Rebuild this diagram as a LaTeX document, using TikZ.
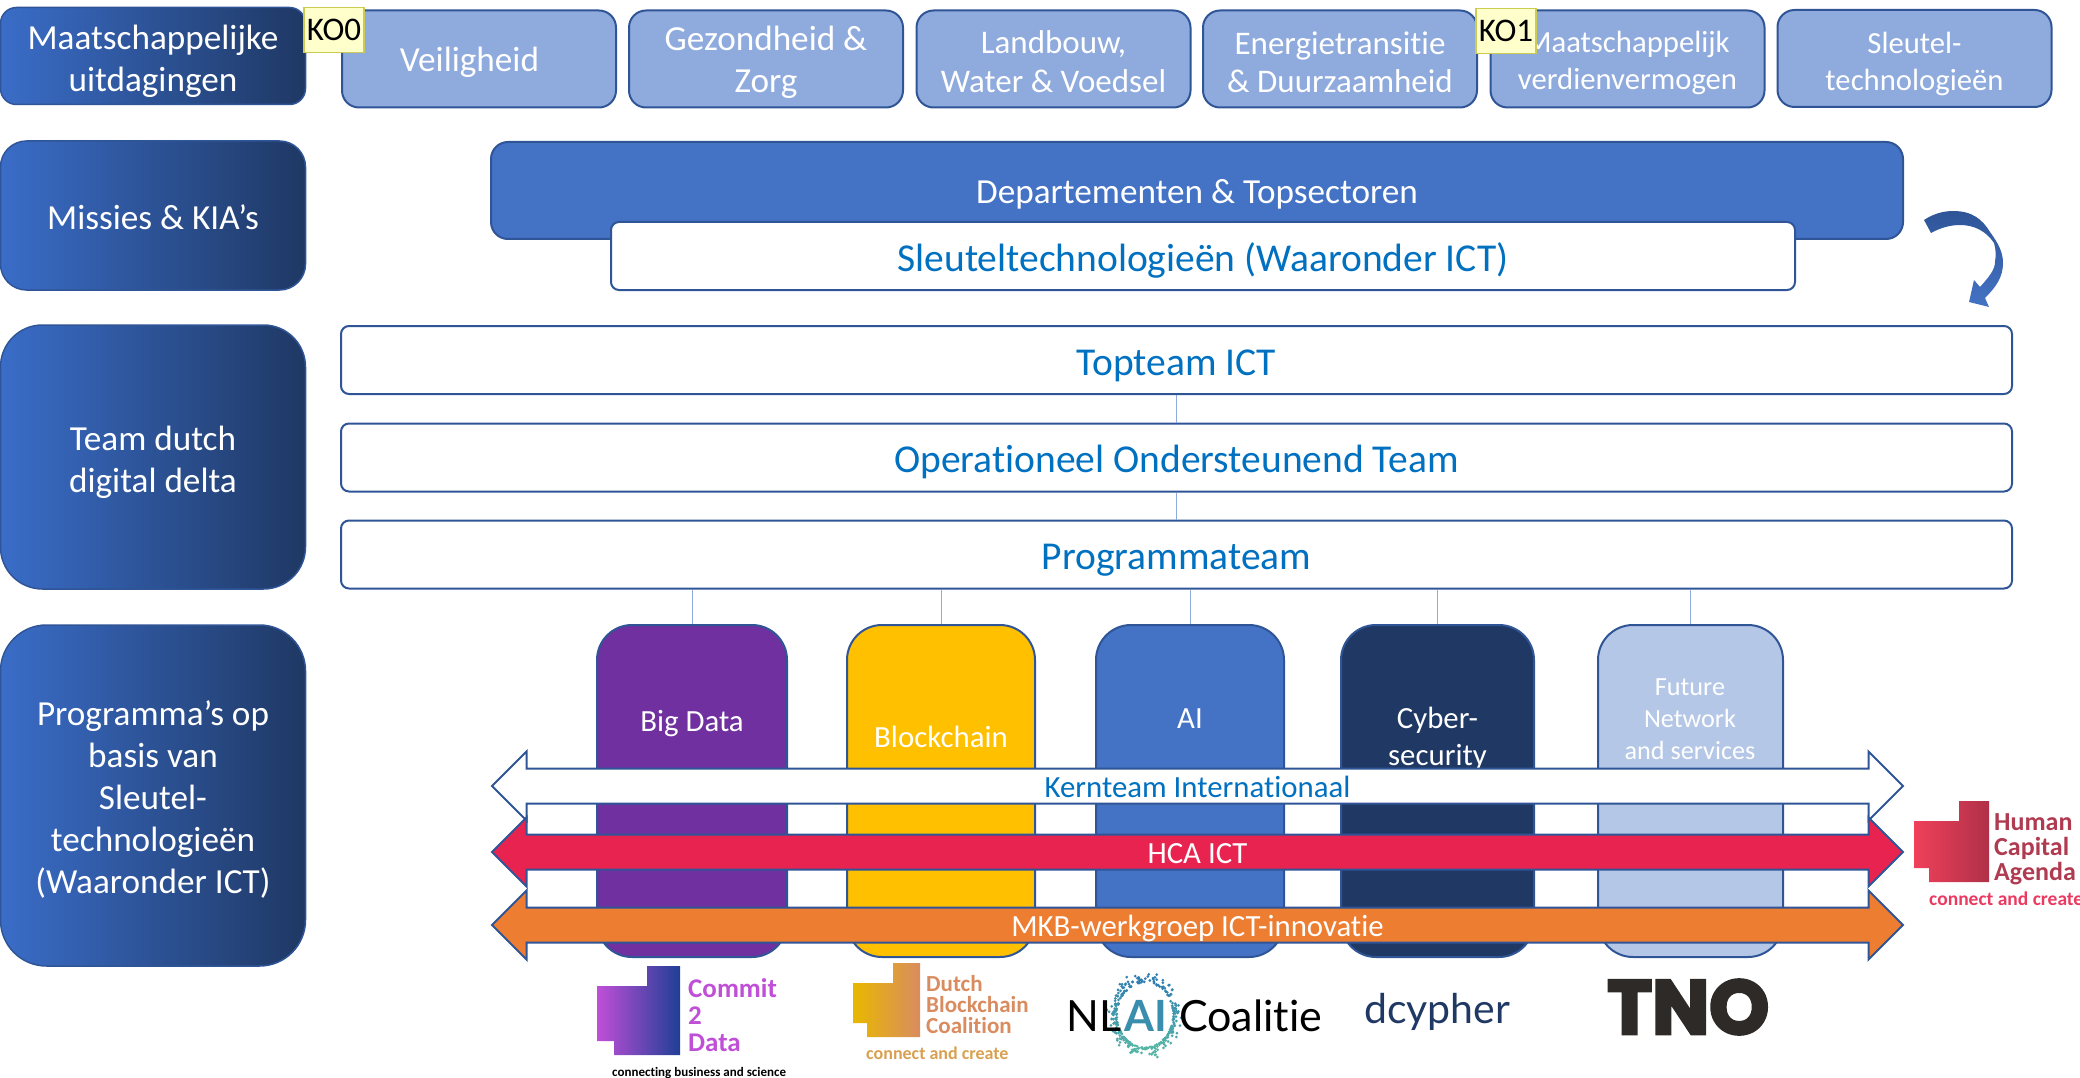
\documentclass[tikz,border=0pt]{standalone}
\usepackage{fontspec}
\setmainfont{Carlito}[Ligatures=NoCommon]
\newfontfamily\tnofont[FakeBold=4]{Poppins Bold}
\newfontfamily\logofont[Ligatures=NoCommon]{Lato}
\usetikzlibrary{shapes.arrows}

\definecolor{edgeblue}{HTML}{2F5597}
\definecolor{themeblue}{HTML}{8FAADC}
\definecolor{textblue}{HTML}{0070C0}
\definecolor{midblue}{HTML}{4472C4}
\definecolor{sideblue}{HTML}{3A6DC8}
\definecolor{navyblue}{HTML}{1F3864}
\definecolor{paleblue}{HTML}{B4C7E7}
\definecolor{hcared}{HTML}{E9234F}
\definecolor{mkborange}{HTML}{ED7D31}
\definecolor{bigpurple}{HTML}{7030A0}
\definecolor{chainyellow}{HTML}{FFC000}
\definecolor{notefill}{HTML}{FFFFCC}
\definecolor{noteedge}{HTML}{CCCC55}
\definecolor{commitpink}{HTML}{C04FD8}
\definecolor{commitblue}{HTML}{1F3F95}
\definecolor{dbcsalmon}{HTML}{D98C60}
\definecolor{dbcgold}{HTML}{E8B800}
\definecolor{dbcsub}{HTML}{D8A050}
\definecolor{hcaleft}{HTML}{F0405A}
\definecolor{hcaright}{HTML}{B03048}
\definecolor{hcatext}{HTML}{B03A50}
\definecolor{ringtop}{HTML}{2F7DB0}
\definecolor{ringfoot}{HTML}{55B5A5}

\newcommand{\dropline}[1]{\rule{0pt}{#1pt}}

\begin{document}
\begin{tikzpicture}[x=1pt, y=-1pt,
  textdrop/.style={execute at begin node={\rule{0pt}{#1pt}}},
  sidebox/.style={draw=edgeblue, line width=1.5pt, left color=sideblue, right color=navyblue, text=white,
    align=center, inner sep=0pt, minimum width=305pt, font=\fontsize{35.2}{42}\selectfont},
  themebox/.style={draw=edgeblue, line width=2pt, fill=themeblue, text=white, rounded corners=17pt,
    align=center, inner sep=0pt, minimum width=274pt, minimum height=97pt, font=\fontsize{35.2}{42}\selectfont},
  teambox/.style={draw=edgeblue, line width=2pt, fill=white, text=textblue, rounded corners=8pt,
    inner sep=0pt, minimum width=1671pt, minimum height=68pt, textdrop=37, font=\fontsize{39.5}{42}\selectfont},
  column/.style={draw=edgeblue, line width=2pt, fill=#1, rounded corners=35pt, inner sep=0pt, minimum height=332pt},
  coltext/.style={text=white, align=center, inner sep=0pt, font=\fontsize{30.8}{37}\selectfont},
  band/.style={shape=double arrow, draw=edgeblue, line width=2pt, fill=#1, inner xsep=0pt, inner ysep=0pt,
    double arrow head extend=17pt, minimum height=1411pt, text height=28pt, text depth=5pt,
    font=\fontsize{30.8}{36}\selectfont},
  note/.style={draw=noteedge, line width=1.5pt, fill=notefill, inner sep=0pt, minimum width=60pt, minimum height=45pt,
    font=\fontsize{33}{36}\selectfont},
  link/.style={draw=themeblue, line width=1pt},
  logotext/.style={align=left, anchor=west, inner sep=0pt, font=\fontsize{#1}{#1}\bfseries\selectfont},
  marktext/.style={anchor=west, inner sep=0pt, font=\logofont\fontsize{#1}{#1}\selectfont}]

\useasboundingbox (0,0) rectangle (2080,1078);

%─────────────
% Stepped logo block
%─────────────
\newcommand{\drawStepLogo}[8]{%
  \shade[left color=#7, right color=#8]
    (#3,#5) -- (#2+#1,#5) -- (#2+#1,#6) -- (#4,#6) -- (#4,#6-14) -- (#1,#6-14) -- (#1,#5+20) -- (#3,#5+20) -- cycle;
}

%─────────────
% Row labels on the left
%─────────────
\node[sidebox, rounded corners=16pt, minimum height=97pt] (rowA) at (153,56) {\dropline{35}Maatschappelijke\\uitdagingen};
\node[sidebox, rounded corners=26pt, minimum height=149pt, textdrop=29] (rowB) at (153,215.5) {Missies \& KIA’s};
\node[sidebox, rounded corners=42pt, minimum height=264pt] (rowC) at (153,457) {\dropline{35}Team dutch\\digital delta};
\node[sidebox, rounded corners=46pt, minimum height=341pt] (rowD) at (153,795.5) {\dropline{32}Programma’s op\\basis van\\Sleutel-\\technologieën\\(Waaronder ICT)};

%─────────────
% Themes
%─────────────
\node[themebox, textdrop=32] (veilig) at (479,59) {Veiligheid\hspace*{19pt}};
\node[themebox] (zorg) at (766,59) {\dropline{32}Gezondheid \&\\Zorg};
\node[themebox, font=\fontsize{33}{39}\selectfont] (land) at (1053.5,59) {\dropline{29}Landbouw,\\Water \& Voedsel};
\node[themebox, font=\fontsize{33}{38}\selectfont] (energie) at (1340,59) {\dropline{29}Energietransitie\\\& Duurzaamheid};
\node[themebox, font=\fontsize{30.7}{37}\selectfont] (verdien) at (1627.5,59) {\dropline{29}Maatschappelijk\\verdienvermogen};
\node[themebox, font=\fontsize{30.7}{37}\selectfont] (sleutel) at (1914.5,58.5) {\dropline{32}Sleutel-\\technologieën};

\node[note] (kozero) at (334,30) {KO0};
\node[note] (koone) at (1506,31) {KO1};

%─────────────
% Departments
%─────────────
\node[themebox, fill=midblue, minimum width=1412pt, textdrop=32] (depart) at (1197,190.5) {Departementen \& Topsectoren};
\node[teambox, minimum width=1184pt, textdrop=36] (keytech) at (1203,256) {Sleuteltechnologieën (Waaronder ICT)};

% curved arrow down to the team
\shade[top color=edgeblue, bottom color=midblue]
  (1924,220) .. controls (1933,214) and (1943,211) .. (1953,211)
  .. controls (1972,211) and (1982,219) .. (1990,232)
  .. controls (1998,243) and (2003,252) .. (2003,263)
  .. controls (2003,277) and (1996,287) .. (1985,298)
  -- (1989,307) -- (1969,302) -- (1974,280) -- (1980,287)
  .. controls (1988,278) and (1995,270) .. (1995,262)
  .. controls (1996,255) and (1996,250) .. (1994,243)
  .. controls (1986,231) and (1974,225) .. (1960,225)
  .. controls (1950,225) and (1940,228) .. (1931,233) -- cycle;

%─────────────
% Team
%─────────────
\node[teambox] (topteam) at (1176.5,360) {Topteam ICT};
\node[teambox] (opsteam) at (1176.5,457.5) {Operationeel Ondersteunend Team};
\node[teambox] (progteam) at (1176.5,554.5) {Programmateam};

\draw[link] (topteam) -- (opsteam);
\draw[link] (opsteam) -- (progteam);

%─────────────
% Programme columns
%─────────────
\node[column=bigpurple, minimum width=190pt] (bigdata) at (692,791) {};
\node[column=chainyellow, minimum width=188pt] (chain) at (941,791) {};
\node[column=midblue, minimum width=188pt] (aicol) at (1190,791) {};
\node[column=navyblue, minimum width=193pt] (cyber) at (1437.5,791) {};
\node[column=paleblue, minimum width=185pt] (future) at (1690.5,791) {};

\foreach \col in {bigdata,chain,aicol,cyber,future}
  \draw[link] (progteam.south -| \col) -- (\col.north);

\node[coltext] (bigdatatxt) at (692,724) {Big Data};
\node[coltext] (chaintxt) at (941,737) {Blockchain};
\node[coltext] (aitxt) at (1190,719) {AI};
\node[coltext] (cybertxt) at (1437.5,739) {Cyber-\\security};
\node[coltext, font=\fontsize{26.2}{32}\selectfont] (futuretxt) at (1690,719) {Future\\Network\\and services};

%─────────────
% Crossing bands
%─────────────
\node[band=white, text=textblue] (kernteam) at (1197.5,786) {Kernteam Internationaal};
\node[band=hcared, text=white] (hca) at (1197.5,852) {HCA ICT};
\node[band=mkborange, text=white] (mkb) at (1197.5,925) {MKB-werkgroep ICT-innovatie};

%─────────────
% Logos
%─────────────
% left, width, step, foot, top, bottom, colours
\drawStepLogo{597}{83}{647}{614}{966}{1055}{commitpink}{commitblue}
\node[logotext=27, text=commitpink] (commit) at (688,1015) {Commit\\2\\Data};
\node[logotext=13, text=black] (commitsub) at (612,1073) {connecting business and science};

\drawStepLogo{853}{67}{893}{867}{963}{1037}{dbcgold}{dbcsalmon}
\node[logotext=23, text=dbcsalmon] (dbc) at (926,1005) {Dutch\\[-2pt]Blockchain\\[-2pt]Coalition};
\node[logotext=18, text=dbcsub] (dbcsubtxt) at (866,1053) {connect and create};

\drawStepLogo{1914}{75}{1959}{1929}{801}{882}{hcaleft}{hcaright}
\node[logotext=26, text=hcatext] (hcalogo) at (1994,849) {Human\\[-1pt]Capital\\[-1pt]Agenda};
\node[logotext=19.5, text=hcared!90!white] (hcasub) at (1929,899) {connect and create};

% NL AI Coalitie
\pgfmathsetseed{42}
\foreach \k in {1,...,300} {
  \pgfmathsetmacro{\ang}{360*rnd}
  \pgfmathsetmacro{\grow}{0.72+0.28*rnd*rnd}
  \pgfmathsetmacro{\mixval}{50+50*sin(\ang)}
  \fill[color={ringfoot!\mixval!ringtop}] ({1145+39*\grow*cos(\ang)},{1015+45*\grow*sin(\ang)}) circle (1.5pt);
}
\node[marktext=43, text=black] (nltxt) at (1066,1016) {NL};
\node[logotext=44, text=ringtop!70!ringfoot, font=\logofont\bfseries\fontsize{43}{43}\selectfont] (aimark) at (1124,1016) {AI};
\node[marktext=43, text=black] (coalitie) at (1179,1016) {Coalitie};

\node[marktext=41, text=navyblue] (dcypher) at (1364,1012) {dcypher};
\node[anchor=west, inner sep=0pt, text=black!90!olive, font=\tnofont\fontsize{76}{76}\selectfont] (tno) at (1607,1007) {TNO};

\end{tikzpicture}
\end{document}
